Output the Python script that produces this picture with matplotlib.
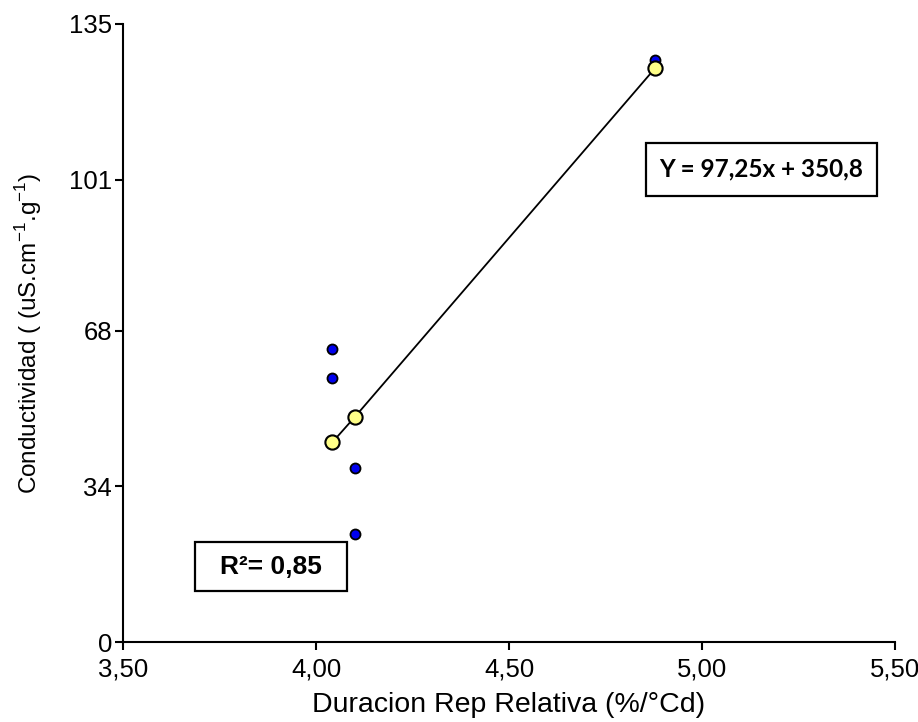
import matplotlib
matplotlib.use("Agg")
import matplotlib.pyplot as plt
from matplotlib.patches import Rectangle

# Data
x_obs = [4.042, 4.042, 4.101, 4.101, 4.878]
y_obs = [64.0, 57.6, 37.9, 23.5, 127.1]
x_mean = [4.042, 4.101, 4.878]
y_mean = [43.6, 49.2, 125.3]
x_ticks = [3.5, 4.0, 4.5, 5.0, 5.5]
x_ticklabels = ["3,50", "4,00", "4,50", "5,00", "5,50"]
y_ticks = [0, 34, 68, 101, 135]
y_ticklabels = ["0", "34", "68", "101", "135"]
eq_text = "Y = 97,25x + 350,8"
r2_text = "R²= 0,85"

plt.rcParams['font.family'] = ['Liberation Sans', 'DejaVu Sans']

fig = plt.figure(figsize=(9.18, 7.22), dpi=100)
ax = fig.add_axes([0.134, 0.1108, 0.841, 0.856])

ax.plot(x_mean, y_mean, '-', color='black', lw=1.3, zorder=2)
ax.scatter(x_obs, y_obs, s=52, color='#0000ee', edgecolor='black', linewidth=1.3, zorder=3)
ax.scatter(x_mean, y_mean, s=105, color='#ffff88', edgecolor='black', linewidth=1.5, zorder=4)

ax.set_xlim(3.5, 5.5)
ax.set_ylim(0, 135)
ax.set_xticks(x_ticks)
ax.set_xticklabels(x_ticklabels)
ax.set_yticks(y_ticks)
ax.set_yticklabels(y_ticklabels)
for s in ['top', 'right']:
    ax.spines[s].set_visible(False)
for s in ['left', 'bottom']:
    ax.spines[s].set_linewidth(1.5)
ax.tick_params(direction='out', length=6, width=1.5, labelsize=18.5, pad=2)
ax.tick_params(axis='x', pad=5)

ax.set_xlabel("Duracion Rep Relativa (%/°Cd)", fontsize=20.5, labelpad=8)
ax.set_ylabel(r"Conductividad ( (uS.cm$^{\mathregular{-1}}$.g$^{\mathregular{-1}}$)",
              fontsize=17.5, labelpad=18)

# Equation box
ax.add_patch(Rectangle((0.678, 0.721), 0.298, 0.087, transform=ax.transAxes,
                       fill=False, edgecolor='black', lw=1.6, clip_on=False, zorder=5))
ax.text(0.827, 0.765, eq_text, transform=ax.transAxes, ha='center', va='center',
        fontsize=17.5, fontweight='bold', family=['Lato', 'DejaVu Sans'], zorder=6)

# R2 box
ax.add_patch(Rectangle((0.093, 0.082), 0.197, 0.079, transform=ax.transAxes,
                       fill=False, edgecolor='black', lw=1.6, clip_on=False, zorder=5))
ax.text(0.191, 0.121, r2_text, transform=ax.transAxes, ha='center', va='center',
        fontsize=19, fontweight='bold', zorder=6)

fig.savefig("out.png", dpi=100)
